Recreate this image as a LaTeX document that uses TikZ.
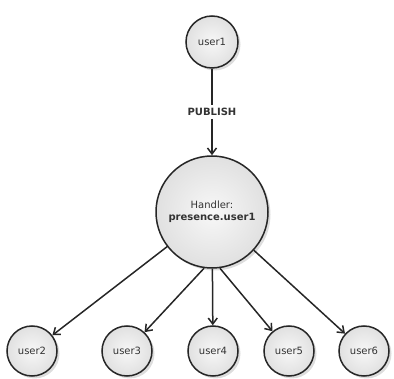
\documentclass[tikz,border=0pt]{standalone}
\usepackage{fontspec}
\setmainfont{DejaVu Sans}
\usetikzlibrary{shadows,arrows.meta}
\begin{document}
\begin{tikzpicture}[x=1pt,y=-1pt,
  usernode/.style={circle, draw=black!85, line width=1.5pt, minimum size=#1,
    inner sep=0pt, inner color=gray!6, outer color=gray!24,
    drop shadow={shadow xshift=2.5pt, shadow yshift=-2.5pt, fill=gray!45, opacity=0.6},
    font=\fontsize{10}{12}\selectfont, text=black!80},
  usernode/.default=50pt,
  flow/.style={line width=1.5pt, draw=black!85, -{Straight Barb[length=6pt,width=9pt,line width=1.5pt]}}
]
\useasboundingbox (0,0) rectangle (394,379);
\node[usernode=52pt] (u1) at (212,42) {user1};
\node[usernode=112pt, align=center] (h) at (212,212)
  {Handler:\\[0pt]{\bfseries presence.user1}};
\node[usernode] (u2) at (32,351) {user2};
\node[usernode] (u3) at (127,351) {user3};
\node[usernode] (u4) at (213,351) {user4};
\node[usernode] (u5) at (289,351) {user5};
\node[usernode] (u6) at (364,351) {user6};
\node[font=\fontsize{10}{12}\selectfont\bfseries, text=black!80, fill=white, inner sep=3pt] (pub) at (212,112) {PUBLISH};
\draw[line width=1.5pt, draw=black!85] (u1) -- (pub);
\draw[flow] (pub) -- (h);
\draw[flow] (h) -- (u2);
\draw[flow] (h.262) -- (u3);
\draw[flow] (h) -- (u4);
\draw[flow] (h.278) -- (u5);
\draw[flow] (h) -- (u6);
\end{tikzpicture}
\end{document}
